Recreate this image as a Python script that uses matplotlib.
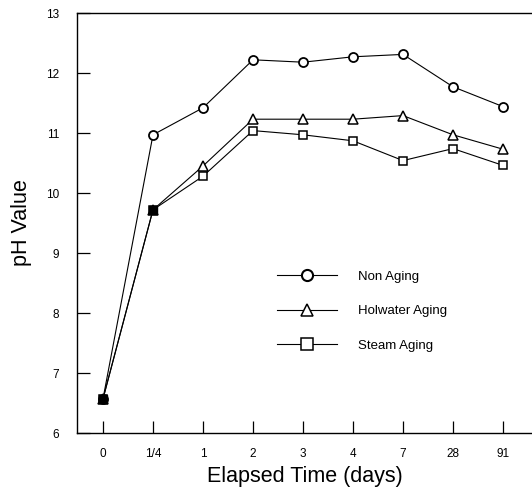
import matplotlib
matplotlib.use("Agg")
import matplotlib.pyplot as plt
from matplotlib.lines import Line2D

plt.rcParams['font.family'] = ['Liberation Sans', 'DejaVu Sans']

time_labels = ["0", "1/4", "1", "2", "3", "4", "7", "28", "91"]
non_aging = [6.57, 10.97, 11.42, 12.22, 12.18, 12.27, 12.31, 11.77, 11.44]
hotwater_aging = [6.57, 9.72, 10.45, 11.23, 11.23, 11.23, 11.29, 10.97, 10.73]
steam_aging = [6.57, 9.72, 10.28, 11.04, 10.97, 10.87, 10.54, 10.74, 10.46]

x = list(range(len(time_labels)))

fig = plt.figure(figsize=(5.32, 4.91), dpi=100)
ax = fig.add_axes([77 / 532, 58 / 491, 455 / 532, 420 / 491])

ax.plot(x, non_aging, color='black', lw=0.8, marker='o', ms=6.5,
        mfc='white', mec='black', mew=1.3, label='Non Aging')
ax.plot(x, hotwater_aging, color='black', lw=0.8, marker='^', ms=7,
        mfc='white', mec='black', mew=1.1, label='Holwater Aging')
ax.plot(x, steam_aging, color='black', lw=0.8, marker='s', ms=6,
        mfc='white', mec='black', mew=1.1, label='Steam Aging')
# filled first points
ax.plot(x[:2], steam_aging[:2], ls='none', marker='s', ms=6,
        mfc='black', mec='black')

ax.set_xlim(-0.52, 8.58)
ax.set_ylim(6, 13)
ax.set_xticks(x)
ax.set_xticklabels(time_labels)
ax.set_yticks(range(6, 14))

ax.tick_params(axis='both', direction='in', length=9, width=0.9,
               labelsize=8.5, color='black')
ax.tick_params(axis='x', pad=11)
ax.tick_params(axis='y', pad=13)

for side in ['left', 'bottom', 'top']:
    ax.spines[side].set_linewidth(1.0)
ax.spines['right'].set_visible(False)

ax.set_xlabel('Elapsed Time (days)', fontsize=15.5, labelpad=4)
ax.set_ylabel('pH Value', fontsize=15.5, labelpad=10)

handles = [
    Line2D([], [], color='black', lw=0.8, marker='o', ms=8, mfc='white', mew=1.5),
    Line2D([], [], color='black', lw=0.8, marker='^', ms=9, mfc='white', mew=1.1),
    Line2D([], [], color='black', lw=0.8, marker='s', ms=8, mfc='white', mew=1.1),
]
ax.legend(handles, ['Non Aging', 'Holwater Aging', 'Steam Aging'],
          loc='center left', bbox_to_anchor=(0.414, 0.29), frameon=False,
          fontsize=9.5, handlelength=4.5, handletextpad=1.6, labelspacing=1.7)

fig.savefig('out.png', dpi=100)
